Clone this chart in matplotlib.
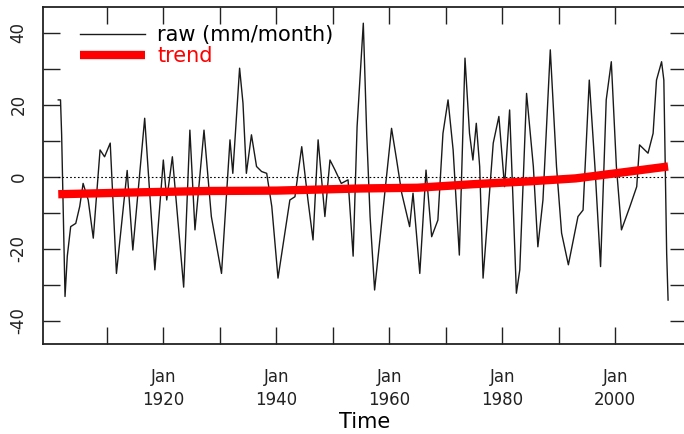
import matplotlib.pyplot as plt
from matplotlib.ticker import FixedLocator

# --- data (year, mm/month anomaly) ---
raw_year = [1901.4, 1901.8, 1902.0, 1902.6, 1903.0, 1903.6, 1904.5, 1905.2, 1905.8, 1906.7,
            1907.6, 1908.8, 1909.6, 1910.6, 1911.7, 1913.6, 1914.6, 1916.7, 1918.5, 1920.0,
            1920.6, 1921.6, 1923.6, 1924.7, 1925.6, 1927.2, 1928.5, 1930.3, 1931.8, 1932.3,
            1933.5, 1934.1, 1934.7, 1935.6, 1936.5, 1937.4, 1938.3, 1939.2, 1940.3, 1942.4,
            1943.3, 1943.9, 1944.5, 1945.6, 1946.5, 1947.4, 1948.6, 1949.5, 1950.4, 1951.5,
            1952.7, 1953.6, 1954.3, 1955.4, 1956.0, 1956.6, 1957.4, 1959.2, 1960.4, 1961.3,
            1962.2, 1963.6, 1964.2, 1965.4, 1966.5, 1967.5, 1968.6, 1969.5, 1970.4, 1971.3,
            1972.4, 1973.4, 1974.2, 1974.8, 1975.4, 1976.0, 1976.6, 1978.4, 1979.4, 1980.4,
            1981.3, 1981.9, 1982.5, 1983.1, 1984.3, 1985.5, 1986.3, 1987.2, 1988.5, 1989.6,
            1990.5, 1991.7, 1993.4, 1994.3, 1995.4, 1996.4, 1997.4, 1998.4, 1999.3, 2000.2,
            2001.1, 2002.6, 2003.8, 2004.3, 2005.8, 2006.7, 2007.3, 2008.2, 2008.6, 2009.1,
            2009.35]
raw_val = [21.4, 21.4, 11.7, -33.2, -22.0, -13.8, -12.9, -8.2, -1.8, -6.4,
           -17.0, 7.5, 5.6, 9.4, -26.8, 1.8, -20.3, 16.3, -25.8, 4.7,
           -6.4, 5.6, -30.6, 13.0, -14.7, 13.0, -11.0, -26.8, 10.3, 1.0,
           30.2, 20.5, 1.0, 11.7, 2.9, 1.5, 1.0, -8.2, -28.1, -6.4,
           -5.5, 1.5, 8.4, -6.4, -17.5, 10.3, -11.0, 4.7, 1.9, -1.8,
           -0.8, -22.0, 14.0, 42.7, 12.0, -11.0, -31.4, -4.5, 13.5, 4.7,
           -4.5, -13.8, -4.5, -26.8, 1.9, -16.6, -12.0, 12.1, 21.4, 7.5,
           -21.7, 33.0, 12.1, 4.7, 14.9, 2.9, -28.1, 9.4, 16.8, -2.7,
           18.6, -6.4, -32.3, -25.8, 23.2, 2.9, -19.4, -6.4, 35.3, 2.9,
           -15.6, -24.4, -11.0, -9.2, 26.9, 2.9, -24.9, 21.4, 32.0, 2.9,
           -14.7, -8.2, -2.7, 8.9, 6.6, 12.1, 26.9, 32.0, 26.9, -21.2,
           -34.2]

trend_year = [1901.4, 1915, 1928, 1940, 1955, 1965, 1975, 1985, 1993, 2000, 2009.35]
trend_val = [-4.8, -4.3, -3.9, -3.8, -3.2, -3.0, -2.0, -1.2, -0.4, 1.0, 2.9]

xtick_years = [1910, 1920, 1930, 1940, 1950, 1960, 1970, 1980, 1990, 2000]
xlabel_years = [1920, 1940, 1960, 1980, 2000]
ytick_vals = [-40, -30, -20, -10, 0, 10, 20, 30, 40]
ylabel_vals = [-40, -20, 0, 20, 40]

plt.rcParams['font.family'] = 'DejaVu Sans'
plt.rcParams['axes.unicode_minus'] = False

fig = plt.figure(figsize=(6.84, 4.34), dpi=100)
W, H = 684.0, 434.0
ax = fig.add_axes([43/W, 90/H, (687-43)/W, (344-7)/H])

ax.hlines(0, raw_year[0], raw_year[-1], colors='k', linestyles=(0, (1.5, 2)), lw=0.8)
ax.plot(raw_year, raw_val, color='#1a1a1a', lw=1.0, label='raw (mm/month)')
ax.plot(trend_year, trend_val, color='red', lw=6, solid_capstyle='butt', label='trend')

ax.set_xlim(1898.7, 2012.7)
ax.set_ylim(-46.4, 47.2)

# x ticks every 10 years, labels every 20
ax.xaxis.set_major_locator(FixedLocator(xtick_years))
ax.set_xticklabels(['Jan\n%d' % y if y in xlabel_years else '' for y in xtick_years],
                   fontsize=12, linespacing=1.4)
ax.yaxis.set_major_locator(FixedLocator(ytick_vals))
ax.set_yticklabels([str(v) if v in ylabel_vals else '' for v in ytick_vals],
                   fontsize=12, rotation=90, va='center')
ax.tick_params(direction='in', top=True, right=True, length=12, width=1.0, colors='#222222')
ax.tick_params(axis='x', pad=17)
ax.tick_params(axis='y', pad=11)

for s in ax.spines.values():
    s.set_linewidth(1.3)
    s.set_color('#222222')

ax.set_xlabel('Time', fontsize=15)
ax.xaxis.set_label_coords(0.5, (12 - 90) / 337.0)
ax.xaxis.label.set_va('center')

leg = ax.legend(loc='upper left', bbox_to_anchor=(80/W, 1 - 25/H), bbox_transform=fig.transFigure,
                frameon=False, fontsize=15, handlelength=3.1, handletextpad=0.6,
                borderpad=0, borderaxespad=0, labelspacing=0.05)
leg.get_texts()[1].set_color('red')

fig.savefig('out.png', dpi=100)
